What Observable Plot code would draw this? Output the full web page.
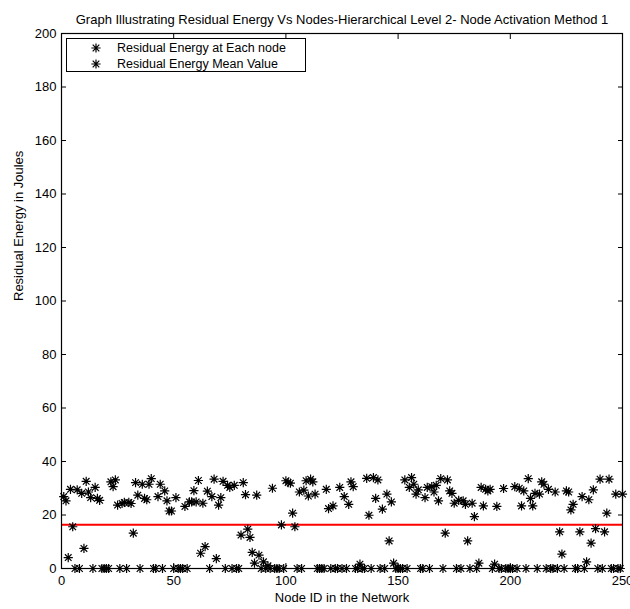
<!DOCTYPE html>
<html>
<head>
<meta charset="utf-8">
<script src="https://cdn.jsdelivr.net/npm/d3@7"></script>
<script src="https://cdn.jsdelivr.net/npm/@observablehq/plot@0.6"></script>
<style>
  html, body { margin: 0; padding: 0; background: #fff; }
  #wrap { position: relative; width: 630px; height: 609px; font-family: "Liberation Sans", Arial, sans-serif; }
  #legend { position: absolute; left: 66px; top: 38px; width: 240px; height: 34px; border: 1px solid #000; background: #fff; box-sizing: border-box; font-size: 12.5px; color: #000; }
  .row { position: absolute; left: 0; height: 16px; display: flex; align-items: center; }
  .row svg { margin-left: 23px; margin-right: 15px; }
</style>
</head>
<body>
<div id="wrap">
  <div id="chart"></div>
  <div id="legend"></div>
</div>
<script>
// ---- data ----
const titleText = "Graph Illustrating Residual Energy Vs Nodes-Hierarchical Level 2- Node Activation Method 1";
const xLabel = "Node ID in the Network";
const yLabel = "Residual Energy in Joules";
const seriesNames = ["Residual Energy at Each node", "Residual Energy Mean Value"];
const xTicks = [0, 50, 100, 150, 200, 250];
const yTicks = [0, 20, 40, 60, 80, 100, 120, 140, 160, 180, 200];
const nodeIds = d3.range(1, 251);
const residualEnergy = [
  26.9, 25.3, 4.1, 29.6, 15.6, 0, 29.4, 0, 28.1, 7.5,
  32.6, 28.6, 26.5, 0, 30.3, 26.2, 25.5, 0, 0, 0,
  0, 32.4, 30.6, 33.1, 23.7, 0, 24.3, 24.7, 0, 24.7,
  24.3, 13.2, 32.1, 27.4, 0, 31.5, 26.2, 25.7, 31.5, 33.6,
  0, 0, 26.9, 31.5, 0, 29.0, 25.3, 21.5, 21.5, 0,
  26.5, 0, 0, 0, 23.2, 0, 24.9, 24.9, 29.1, 24.9,
  32.9, 5.7, 24.4, 8.2, 28.9, 0, 26.9, 33.4, 3.7, 23.7,
  26.5, 32.6, 0, 31.1, 30.3, 0, 31.1, 0, 0, 12.5,
  32.1, 27.6, 14.7, 11.6, 6.0, 2.0, 27.4, 5.0, 0, 2.5,
  0, 1.0, 0, 30.0, 0, 0, 0, 16.3, 0, 32.8,
  32.1, 31.9, 20.7, 15.6, 0, 28.6, 0, 29.3, 32.8, 27.1,
  33.4, 32.4, 27.8, 0, 0, 0, 0, 29.6, 22.4, 0,
  23.4, 0, 0, 30.3, 0, 26.9, 0, 24.0, 32.4, 30.6,
  0, 0, 1.6, 0, 0, 33.7, 19.9, 0, 34.0, 26.2,
  33.1, 0, 22.2, 0, 27.8, 10.3, 24.9, 2.0, 0, 0,
  0, 0, 33.1, 0, 30.3, 34.0, 31.5, 27.8, 29.4, 0,
  0, 26.5, 30.3, 0, 30.6, 28.6, 31.1, 25.3, 33.6, 0,
  13.2, 33.1, 29.0, 28.1, 24.4, 0, 25.5, 0, 25.3, 24.0,
  10.3, 0, 24.4, 19.4, 0, 2.0, 30.3, 23.4, 29.6, 29.0,
  29.6, 0, 1.6, 23.2, 0, 0, 29.9, 0, 0, 0,
  0, 30.6, 0, 30.0, 23.4, 29.0, 0, 33.6, 26.2, 23.4,
  28.1, 0, 27.8, 32.4, 31.5, 0, 29.6, 0, 0, 28.6,
  0, 13.7, 5.4, 0, 29.0, 28.6, 21.9, 24.0, 0, 0,
  13.7, 26.9, 0, 2.5, 25.7, 9.5, 29.4, 14.9, 0, 33.4,
  0, 13.7, 20.7, 33.4, 0, 0, 27.8, 0, 0, 27.8
];
const meanValue = 16.4;

const points = nodeIds.map((id, i) => ({id, energy: residualEnergy[i]}));

// MATLAB-style '*' marker: plus overlaid with a cross
const star = {
  draw(context, size) {
    const r = Math.sqrt(size / Math.PI);
    const d = r * 0.72;
    context.moveTo(-r, 0); context.lineTo(r, 0);
    context.moveTo(0, -r); context.lineTo(0, r);
    context.moveTo(-d, -d); context.lineTo(d, d);
    context.moveTo(-d, d); context.lineTo(d, -d);
  }
};

const font = "'Liberation Sans', Arial, sans-serif";
const noText = () => "";
const tk = 5; // inward tick length

const chart = Plot.plot({
  width: 630,
  height: 609,
  marginLeft: 61,
  marginRight: 8,
  marginTop: 33,
  marginBottom: 41,
  style: {fontFamily: font, fontSize: "13px", color: "#000", background: "#fff"},
  x: {domain: [0, 250]},
  y: {domain: [0, 200]},
  marks: [
    Plot.ruleY([meanValue], {stroke: "#ff0000", strokeWidth: 2}),
    Plot.dot(points, {x: "id", y: "energy", symbol: star, r: 4.6, stroke: "#000", strokeWidth: 1.2}),
    Plot.frame({stroke: "#000", strokeWidth: 1.2}),
    // tick labels
    Plot.axisX({ticks: xTicks, anchor: "bottom", tickSize: 0, tickPadding: 7, label: null, fontSize: 13}),
    Plot.axisY({ticks: yTicks, anchor: "left", tickSize: 0, tickPadding: 5, label: null, fontSize: 13}),
    // inward tick marks on all four sides
    Plot.axisX({ticks: xTicks, anchor: "bottom", tickSize: tk, dy: -tk, tickFormat: noText, label: null}),
    Plot.axisX({ticks: xTicks, anchor: "top", tickSize: tk, dy: tk, tickFormat: noText, label: null}),
    Plot.axisY({ticks: yTicks, anchor: "left", tickSize: tk, dx: tk, tickFormat: noText, label: null}),
    Plot.axisY({ticks: yTicks, anchor: "right", tickSize: tk, dx: -tk, tickFormat: noText, label: null}),
    // titles
    Plot.text([titleText], {text: d => d, frameAnchor: "top", dy: -19, fontSize: 13, fill: "#000"}),
    Plot.text([xLabel], {text: d => d, frameAnchor: "bottom", dy: 33, fontSize: 13, fill: "#000"}),
    Plot.text([yLabel], {text: d => d, frameAnchor: "left", dx: -43, rotate: -90, fontSize: 13, fill: "#000"})
  ]
});
document.getElementById("chart").appendChild(chart);

// legend (both entries use the star marker, as in the reference)
const legend = document.getElementById("legend");
const starPath = "M-4.6,0L4.6,0M0,-4.6L0,4.6M-3.3,-3.3L3.3,3.3M-3.3,3.3L3.3,-3.3";
seriesNames.forEach((name, i) => {
  const row = document.createElement("div");
  row.className = "row";
  row.style.top = (i === 0 ? 1 : 17) + "px";
  row.innerHTML = `<svg width="12" height="12" viewBox="-6 -6 12 12"><path d="${starPath}" stroke="#000" stroke-width="1.2" fill="none"/></svg><span>${name}</span>`;
  legend.appendChild(row);
});
</script>
</body>
</html>
